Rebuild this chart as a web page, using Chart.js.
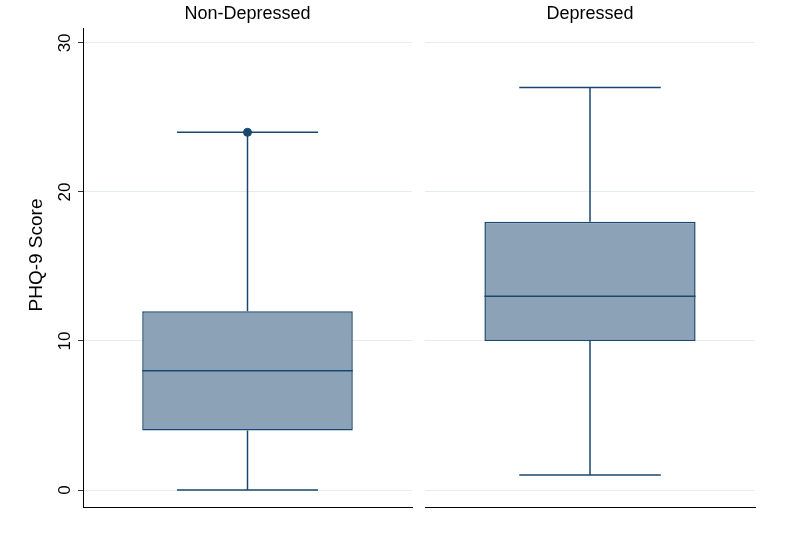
<!DOCTYPE html>
<html lang="en">
<head>
  <meta charset="UTF-8">
  <title>PHQ-9 Score box plot</title>
  <script src="https://cdn.jsdelivr.net/npm/chart.js"></script>
  <style>
    body {
      margin: 0;
      background: #fff;
    }
    .panel {
      position: absolute;
      left: 0;
      top: 0;
      width: 800px;
      height: 550px;
    }
  </style>
</head>
<body>
  <div class="panel"><canvas id="leftChart"></canvas></div>
  <div class="panel"><canvas id="rightChart"></canvas></div>

  <script>
    // box plot summary per group
    const groups = ['Non-Depressed', 'Depressed'];
    const minVals = [0, 1];
    const q1Vals = [4, 10];
    const medianVals = [8, 13];
    const q3Vals = [12, 18];
    const maxVals = [24, 27];
    const outlierVals = [24, null];
    const yTickStep = 10;
    const yTitle = 'PHQ-9 Score';

    const navy = '#1a476f';
    const boxFill = '#8ca3b7';
    const gridColor = '#e3ecee';
    const fontFamily = '"Liberation Sans", Arial, sans-serif';

    Chart.defaults.font.family = fontFamily;
    Chart.defaults.color = '#000';

    // whiskers, caps and median line, placed with the chart's own scales
    const boxPlotPlugin = {
      id: 'boxParts',
      beforeDatasetsDraw(chart) {
        const i = chart.options.plugins.boxParts.group;
        const y = chart.scales.y;
        const bar = chart.getDatasetMeta(0).data[0].getProps(['x', 'width'], true);
        const capHalf = bar.width * 0.335;
        const ctx = chart.ctx;
        ctx.save();
        ctx.strokeStyle = navy;
        ctx.lineWidth = 1.5;
        ctx.beginPath();
        ctx.moveTo(bar.x, y.getPixelForValue(q3Vals[i]));
        ctx.lineTo(bar.x, y.getPixelForValue(maxVals[i]));
        ctx.moveTo(bar.x, y.getPixelForValue(q1Vals[i]));
        ctx.lineTo(bar.x, y.getPixelForValue(minVals[i]));
        ctx.moveTo(bar.x - capHalf, y.getPixelForValue(maxVals[i]));
        ctx.lineTo(bar.x + capHalf, y.getPixelForValue(maxVals[i]));
        ctx.moveTo(bar.x - capHalf, y.getPixelForValue(minVals[i]));
        ctx.lineTo(bar.x + capHalf, y.getPixelForValue(minVals[i]));
        ctx.stroke();
        ctx.restore();
      },
      afterDatasetsDraw(chart) {
        const i = chart.options.plugins.boxParts.group;
        const y = chart.scales.y;
        const bar = chart.getDatasetMeta(0).data[0].getProps(['x', 'width'], true);
        const ctx = chart.ctx;
        const py = y.getPixelForValue(medianVals[i]);
        ctx.save();
        ctx.strokeStyle = navy;
        ctx.lineWidth = 1.5;
        ctx.beginPath();
        ctx.moveTo(bar.x - bar.width / 2, py);
        ctx.lineTo(bar.x + bar.width / 2, py);
        ctx.stroke();
        ctx.restore();
      },
      afterDraw(chart) {
        // Stata style vertical tick labels and axis title (left panel only)
        if (!chart.options.plugins.boxParts.axisLabels) return;
        const y = chart.scales.y;
        const ctx = chart.ctx;
        ctx.save();
        ctx.fillStyle = '#000';
        ctx.textAlign = 'center';
        ctx.textBaseline = 'middle';
        ctx.font = '17px ' + fontFamily;
        y.ticks.forEach(t => {
          ctx.save();
          ctx.translate(y.right - 19, y.getPixelForValue(t.value));
          ctx.rotate(-Math.PI / 2);
          ctx.fillText(t.value, 0, 1);
          ctx.restore();
        });
        ctx.font = '19px ' + fontFamily;
        ctx.translate(37, 255);
        ctx.rotate(-Math.PI / 2);
        ctx.fillText(yTitle, 0, 0);
        ctx.restore();
      }
    };

    function makePanel(canvasId, i, leftPanel) {
      return new Chart(document.getElementById(canvasId), {
        type: 'bar',
        data: {
          labels: [groups[i]],
          datasets: [{
            data: [[q1Vals[i], q3Vals[i]]],
            backgroundColor: boxFill,
            borderColor: navy,
            borderWidth: 1.5,
            borderSkipped: false,
            barPercentage: 0.64,
            categoryPercentage: 1
          }, {
            type: 'line',
            data: [outlierVals[i]],
            showLine: false,
            pointRadius: 4,
            pointBackgroundColor: navy,
            pointBorderColor: navy
          }]
        },
        options: {
          responsive: true,
          maintainAspectRatio: false,
          animation: false,
          layout: {
            padding: leftPanel
              ? { left: 0, right: 388, top: 0, bottom: 43 }
              : { left: 425, right: 45, top: 0, bottom: 43 }
          },
          plugins: {
            legend: { display: false },
            tooltip: { enabled: false },
            title: {
              display: true,
              text: groups[i],
              fullSize: false,
              font: { size: 18, weight: 'normal' },
              color: '#000',
              padding: { top: 3, bottom: 3.4 }
            },
            boxParts: { group: i, axisLabels: leftPanel }
          },
          scales: {
            x: {
              grid: { display: false },
              ticks: { display: false },
              border: { display: true, color: '#000', width: 1 },
              afterFit: s => { s.height = 0; }
            },
            y: {
              min: -1.14,
              max: 31,
              ticks: { display: false, stepSize: yTickStep, includeBounds: false },
              grid: {
                color: gridColor,
                lineWidth: 1,
                drawTicks: leftPanel,
                tickLength: 5,
                tickColor: '#333'
              },
              border: { display: leftPanel, color: '#000', width: 1 },
              afterFit: s => { s.width = leftPanel ? 83 : 0; }
            }
          }
        },
        plugins: [boxPlotPlugin]
      });
    }

    makePanel('leftChart', 0, true);
    makePanel('rightChart', 1, false);
  </script>
</body>
</html>
